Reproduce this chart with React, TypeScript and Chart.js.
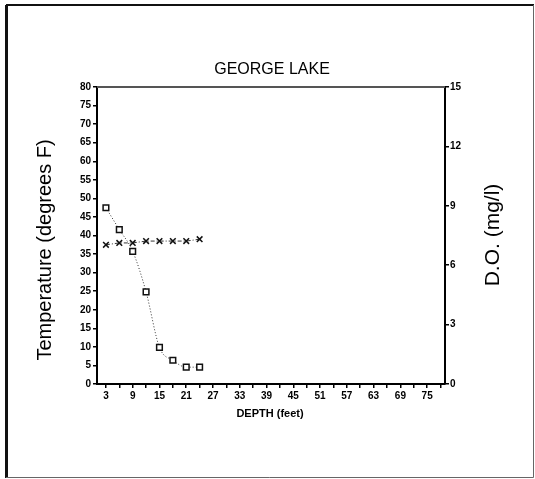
import React, { useEffect, useRef } from "react";
import { Chart, registerables } from "chart.js";

Chart.register(...registerables);

const depths = [3, 6, 9, 12, 15, 18, 21, 24];
const temperatureF = [37.5, 38, 38, 38.5, 38.5, 38.5, 38.5, 39];
const dissolvedO2 = [8.9, 7.8, 6.7, 4.65, 1.85, 1.2, 0.85, 0.85];
const depthTickValues = [3, 6, 9, 12, 15, 18, 21, 24, 27, 30, 33, 36, 39, 42, 45, 48, 51, 54, 57, 60, 63, 66, 69, 72, 75, 78];
const depthTickLabels = ["3", "9", "15", "21", "27", "33", "39", "45", "51", "57", "63", "69", "75"];

const FONT = "'Liberation Sans', Arial, Helvetica, sans-serif";

const decorPlugin = {
  id: "decor",
  afterDraw(chart: any) {
    const ctx = chart.ctx as CanvasRenderingContext2D;
    const a = chart.chartArea;
    ctx.save();
    // outer frame
    ctx.strokeStyle = "#111";
    ctx.lineWidth = 3;
    ctx.beginPath();
    ctx.moveTo(6.5, 478);
    ctx.lineTo(6.5, 5);
    ctx.stroke();
    ctx.lineWidth = 2;
    ctx.beginPath();
    ctx.moveTo(6, 5);
    ctx.lineTo(534, 5);
    ctx.stroke();
    ctx.strokeStyle = "#666";
    ctx.lineWidth = 1;
    ctx.beginPath();
    ctx.moveTo(533.5, 5);
    ctx.lineTo(533.5, 477.5);
    ctx.lineTo(6, 477.5);
    ctx.stroke();
    // top of plot box
    ctx.strokeStyle = "#555";
    ctx.lineWidth = 2;
    ctx.beginPath();
    ctx.moveTo(a.left, a.top);
    ctx.lineTo(a.right, a.top);
    ctx.stroke();
    // titles
    ctx.fillStyle = "#000";
    ctx.textAlign = "center";
    ctx.textBaseline = "middle";
    ctx.font = `16px ${FONT}`;
    ctx.fillText("GEORGE LAKE", 272, 70);
    ctx.font = `bold 11px ${FONT}`;
    ctx.fillText("DEPTH (feet)", 270, 414);
    ctx.font = `20px ${FONT}`;
    ctx.save();
    ctx.translate(45, 250);
    ctx.rotate(-Math.PI / 2);
    ctx.fillText("Temperature (degrees F)", 0, 0);
    ctx.restore();
    ctx.font = `21px ${FONT}`;
    ctx.save();
    ctx.translate(493, 235);
    ctx.rotate(-Math.PI / 2);
    ctx.fillText("D.O. (mg/l)", 0, 0);
    ctx.restore();
    ctx.restore();
  },
};

export default function App() {
  const ref = useRef<HTMLCanvasElement | null>(null);
  useEffect(() => {
    if (!ref.current) return;
    const tickFont = { family: FONT, size: 10, weight: "bold" as const };
    const grid = {
      drawOnChartArea: false,
      drawTicks: true,
      tickLength: 4,
      color: "#000",
      lineWidth: 1.5,
    };
    const chart = new Chart(ref.current, {
      type: "line",
      data: {
        datasets: [
          {
            label: "Temperature",
            data: depths.map((d, i) => ({ x: d, y: temperatureF[i] })),
            yAxisID: "y",
            borderColor: "#333",
            borderWidth: 1,
            borderDash: [4, 2, 1, 2],
            pointStyle: "crossRot",
            pointRadius: 4,
            pointBorderWidth: 1.5,
            pointBorderColor: "#111",
            backgroundColor: "transparent",
            fill: false,
          },
          {
            label: "D.O.",
            data: depths.map((d, i) => ({ x: d, y: dissolvedO2[i] })),
            yAxisID: "y1",
            borderColor: "#333",
            borderWidth: 1,
            borderDash: [1, 2],
            pointStyle: "rect",
            pointRadius: 4,
            pointBorderWidth: 1.5,
            pointBorderColor: "#111",
            pointBackgroundColor: "#fff",
            backgroundColor: "transparent",
            fill: false,
            cubicInterpolationMode: "monotone",
          },
        ],
      },
      options: {
        responsive: false,
        animation: false,
        layout: { padding: { top: 87, left: 0, right: 0, bottom: 0 } },
        plugins: { legend: { display: false }, tooltip: { enabled: false }, title: { display: false } },
        scales: {
          x: {
            type: "linear",
            min: 1,
            max: 79,
            grid,
            border: { display: true, color: "#000", width: 2 },
            afterBuildTicks: (s: any) => {
              s.ticks = depthTickValues.map((v) => ({ value: v }));
            },
            afterFit: (s: any) => {
              s.height = 95;
            },
            ticks: {
              autoSkip: false,
              maxRotation: 0,
              padding: 2,
              color: "#000",
              font: tickFont,
              callback: (v: any) => {
                const s = String(v);
                return depthTickLabels.includes(s) ? s : "";
              },
            },
          },
          y: {
            type: "linear",
            position: "left",
            min: 0,
            max: 80,
            grid,
            border: { display: true, color: "#000", width: 2 },
            afterFit: (s: any) => {
              s.width = 97;
            },
            ticks: { stepSize: 5, autoSkip: false, padding: 2, color: "#000", font: tickFont },
          },
          y1: {
            type: "linear",
            position: "right",
            min: 0,
            max: 15,
            grid,
            border: { display: true, color: "#000", width: 2 },
            afterFit: (s: any) => {
              s.width = 90;
            },
            ticks: { stepSize: 3, autoSkip: false, padding: 1, color: "#000", font: tickFont },
          },
        },
      },
      plugins: [decorPlugin],
    } as any);
    return () => chart.destroy();
  }, []);
  return (
    <div style={{ position: "fixed", left: 0, top: 0, width: 535, height: 479, background: "#fff" }}>
      <canvas ref={ref} width={535} height={479} style={{ display: "block" }} />
    </div>
  );
}
